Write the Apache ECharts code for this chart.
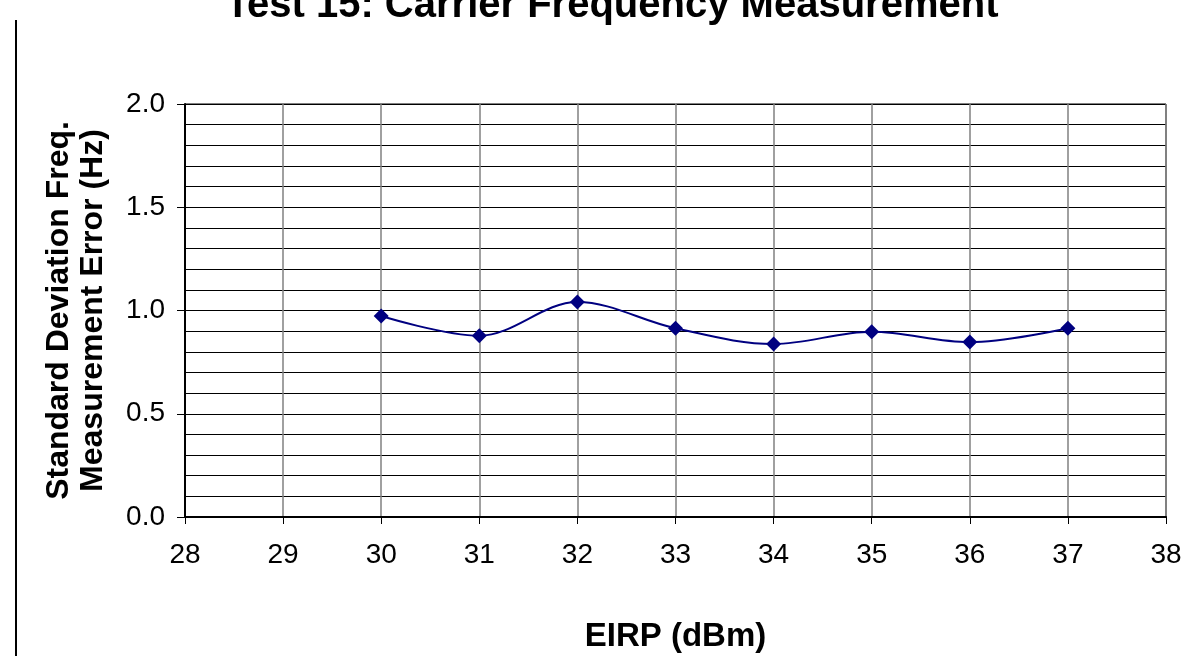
<!DOCTYPE html>
<html>
<head>
<meta charset="utf-8">
<script src="https://cdn.jsdelivr.net/npm/echarts@6/dist/echarts.min.js"></script>
<style>
  html, body { margin: 0; padding: 0; background: #fff; }
  #main { width: 1184px; height: 656px; }
</style>
</head>
<body>
<div id="main"></div>
<script>
// EIRP (dBm) and std deviation of frequency measurement error (Hz)
var eirp = [30, 31, 32, 33, 34, 35, 36, 37];
var stdErr = [0.973, 0.878, 1.041, 0.914, 0.838, 0.897, 0.847, 0.914];
var xTicks = [28, 38, 1];    // min, max, step
var yTicks = [0, 2, 0.5];

var chart = echarts.init(document.getElementById('main'));

var pts = [];
for (var i = 0; i < eirp.length; i++) {
    pts.push([eirp[i], stdErr[i]]);
}

var fnt = 'Liberation Sans, Arial, sans-serif';

var option = {
    animation: false,
    backgroundColor: '#fff',
    title: {
        text: 'Test 15: Carrier Frequency Measurement',
        left: 607,
        textAlign: 'center',
        top: -19,
        textStyle: {
            fontFamily: fnt,
            fontSize: 40,
            fontWeight: 'bold',
            color: '#000'
        }
    },
    graphic: [{
        type: 'line',
        shape: { x1: 16, y1: 20, x2: 16, y2: 656 },
        style: { stroke: '#000', lineWidth: 2 }
    }],
    grid: {
        left: 185,
        right: 18,
        top: 104,
        bottom: 139,
        outerBoundsMode: 'none',  // keep the plot box where it is
        show: true,
        borderColor: '#000',
        borderWidth: 1
    },
    xAxis: {
        type: 'value',
        min: xTicks[0],
        max: xTicks[1],
        interval: xTicks[2],
        name: 'EIRP (dBm)',
        nameLocation: 'middle',
        nameGap: 103,
        nameTextStyle: {
            fontFamily: fnt,
            fontSize: 33,
            fontWeight: 'bold',
            color: '#000'
        },
        axisLine: { show: true, onZero: false, lineStyle: { color: '#000', width: 2 } },
        axisTick: { show: true, inside: false, length: 7, lineStyle: { color: '#000', width: 1 } },
        axisLabel: {
            margin: 24,
            fontFamily: fnt,
            fontSize: 28,
            color: '#000'
        },
        splitLine: { show: true, lineStyle: { color: '#808080', width: 1.5 } }
    },
    yAxis: {
        type: 'value',
        min: yTicks[0],
        max: yTicks[1],
        interval: yTicks[2],
        name: 'Standard Deviation Freq.\nMeasurement Error (Hz)',
        nameLocation: 'middle',
        nameRotate: 90,
        nameGap: 75,
        nameTextStyle: {
            fontFamily: fnt,
            fontSize: 32,
            fontWeight: 'bold',
            lineHeight: 34,
            color: '#000'
        },
        axisLine: { show: true, lineStyle: { color: '#000', width: 2 } },
        axisTick: { show: true, inside: false, length: 8, lineStyle: { color: '#000', width: 1 } },
        axisLabel: {
            margin: 20,
            fontFamily: fnt,
            fontSize: 28,
            color: '#000',
            formatter: function (v) { return v.toFixed(1); }
        },
        splitLine: { show: true, lineStyle: { color: '#000', width: 1 } },
        minorTick: { show: false, splitNumber: 5 },
        minorSplitLine: { show: true, lineStyle: { color: '#000', width: 1 } }
    },
    series: [{
        type: 'line',
        data: pts,
        smooth: 0.35,
        symbol: 'diamond',
        symbolSize: 15,
        lineStyle: { color: '#000080', width: 2 },
        itemStyle: { color: '#000080' }
    }]
};

chart.setOption(option);
</script>
</body>
</html>
